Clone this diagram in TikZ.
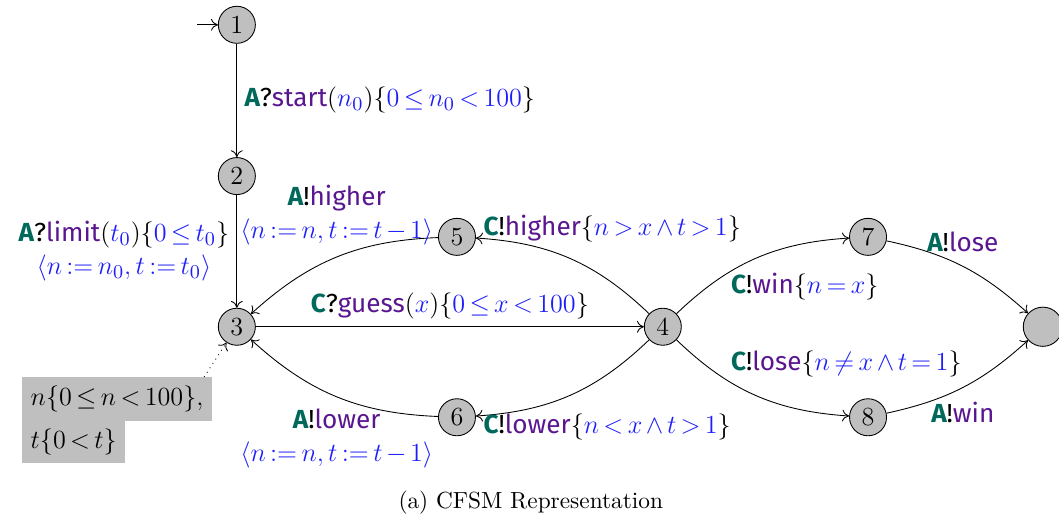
\documentclass[tikz,border=0pt]{standalone}
\usepackage{amsmath,amssymb}
\usepackage{fontspec}
\setsansfont{Fira Sans}[Scale=0.96]
\usepackage{xcolor}
\usepackage{tikz}
\usetikzlibrary{arrows.meta}
\tikzset{state/.style={circle,draw,fill=gray!50,minimum size=17pt,inner sep=0pt,font=\large},
trans/.style={-{To[length=1.1mm,width=1.9mm]}},
lbl/.style={font=\fontsize{12.5}{15}\selectfont\sffamily,align=center},
note/.style={fill=gray!50,font=\fontsize{12}{14}\selectfont,inner xsep=3.8pt,inner ysep=4pt,anchor=north west}}
\definecolor{roleteal}{HTML}{00695C}
\definecolor{msgpurple}{HTML}{5A1690}
\definecolor{exprblue}{HTML}{1E1EFA}
\newcommand{\rl}[1]{\textbf{\color{roleteal}#1}}
\newcommand{\mg}[1]{\textcolor{msgpurple}{#1}}
\newcommand{\ex}[1]{{\color{exprblue}#1}}
\thickmuskip=3mu plus 2mu
\medmuskip=2.5mu plus 1mu

\begin{document}
\begin{tikzpicture}
\useasboundingbox (0,0) rectangle (17.08,-8.47);
\node[state] (n1) at (3.82,-.4) {$1$};
\node[state] (n2) at (3.82,-2.84) {$2$};
\node[state] (n3) at (3.82,-5.27) {$3$};
\node[state] (n4) at (10.69,-5.27) {$4$};
\node[state] (n5) at (7.37,-3.82) {$5$};
\node[state] (n6) at (7.37,-6.73) {$6$};
\node[state] (n7) at (14,-3.82) {$7$};
\node[state] (n8) at (14,-6.73) {$8$};
\node[state,minimum size=18pt] (fin) at (16.82,-5.27) {};
\coordinate (init) at (3.18,-.4);
\draw[trans] (init) -- (n1);
\draw[trans] (n1) -- node[lbl,right] {\rl{A}?\mg{start}$(\ex{n_0})\{\ex{0\le n_0<100}\}$} (n2);
\draw[trans] (n2) -- node[lbl,left] {\rl{A}?\mg{limit}$(\ex{t_0})\{\ex{0\le t_0}\}$\\$\ex{\langle n:=n_0,t:=t_0\rangle}$} (n3);
\draw[trans] (n3) -- node[lbl,above] {\rl{C}?\mg{guess}$(\ex{x})\{\ex{0\le x<100}\}$} (n4);
\draw[trans] (n4) to[bend right=20] node[lbl,pos=1,anchor=west,yshift=4.5pt] {\rl{C}!\mg{higher}$\{\ex{n>x\wedge t>1}\}$} (n5);
\draw[trans] (n5) to[bend right=20] node[lbl,above=2pt] {\rl{A}!\mg{higher}\\$\ex{\langle n:=n,t:=t-1\rangle}$} (n3);
\draw[trans] (n4) to[bend left=20] node[lbl,pos=1,anchor=west,yshift=-5pt] {\rl{C}!\mg{lower}$\{\ex{n<x\wedge t>1}\}$} (n6);
\draw[trans] (n6) to[bend left=20] node[lbl,below=2pt] {\rl{A}!\mg{lower}\\$\ex{\langle n:=n,t:=t-1\rangle}$} (n3);
\draw[trans] (n4) to[bend left=20] node[lbl,pos=.3,anchor=west,yshift=-5pt] {\rl{C}!\mg{win}$\{\ex{n=x}\}$} (n7);
\draw[trans] (n4) to[bend right=20] node[lbl,pos=.3,anchor=west,yshift=6.5pt] {\rl{C}!\mg{lose}$\{\ex{n\neq x\wedge t=1}\}$} (n8);
\draw[trans] (n7) to[bend left=15] node[lbl,above=3pt] {\rl{A}!\mg{lose}} (fin);
\draw[trans] (n8) to[bend right=15] node[lbl,below=3pt] {\rl{A}!\mg{win}} (fin);
% invariants of state 3
\node[note] (ninv) at (.355,-6.08) {$n\{0\le n<100\},$};
\node[note] (tinv) at ([yshift=1pt]ninv.south west) {$t\{0<t\}$};
\draw[dotted,trans] ([xshift=-3.7pt]ninv.north east) -- (n3);
\node[font=\fontsize{10.7}{13}\selectfont] (cap) at (8.56,-8.11) {(a) CFSM Representation};
\end{tikzpicture}
\end{document}
